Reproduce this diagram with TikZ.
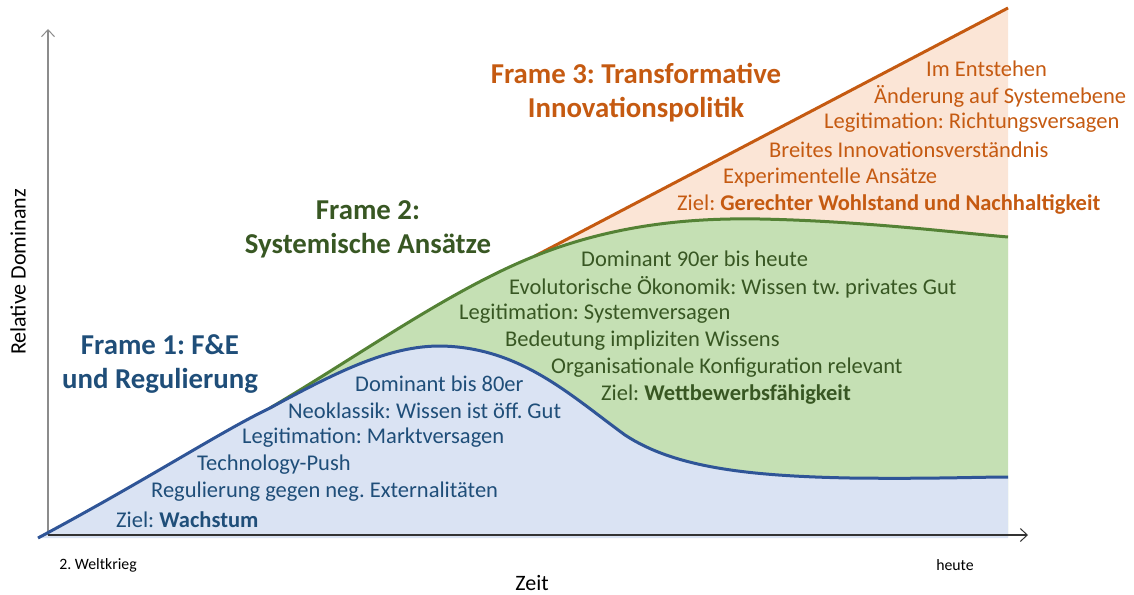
\documentclass[tikz,border=0pt]{standalone}
\usepackage{fontspec}
\setmainfont{Carlito}
\usetikzlibrary{arrows.meta}
\definecolor{bfill}{HTML}{DAE3F3}
\definecolor{gfill}{HTML}{C5E0B4}
\definecolor{ofill}{HTML}{FBE5D6}
\definecolor{bline}{HTML}{2F5597}
\definecolor{gline}{HTML}{548235}
\definecolor{oline}{HTML}{C55A11}
\definecolor{btext}{HTML}{1F4E79}
\definecolor{gtext}{HTML}{385723}
\definecolor{otext}{HTML}{C55A11}
\begin{document}
\frenchspacing
\begin{tikzpicture}[x=1pt,y=-1pt,
  body/.style={anchor=west,inner sep=0pt,font=\fontsize{22.5}{27}\selectfont},
  ftitle/.style={align=center,inner sep=0pt,font=\fontsize{28.8}{34}\selectfont\bfseries},
  small/.style={inner sep=0pt,font=\fontsize{15.8}{18}\selectfont},
  axlabel/.style={inner sep=0pt,font=\fontsize{22}{26}\selectfont},
  curve/.style={line width=3pt},
  axis/.style={line width=1.3pt,-{Straight Barb[length=7pt,width=13pt,line width=1pt]}}]
\useasboundingbox (0,0) rectangle (1134,594);
% fills
\fill[ofill] (535,256) -- (1008,8) -- (1008,300) -- (535,300) -- cycle;
\fill[gfill] (270,408) .. controls (360,355) and (450,290) .. (535,256)
  .. controls (620,222) and (700,218) .. (760,219)
  .. controls (860,221) and (950,232) .. (1008,237) -- (1008,537) -- (270,537) -- cycle;
\fill[bfill] (38,538) .. controls (150,478) and (220,432) .. (270,408)
  .. controls (340,370) and (390,346) .. (440,346)
  .. controls (520,347) and (570,395) .. (625,435)
  .. controls (675,468) and (750,476) .. (850,478)
  .. controls (930,479) and (980,477) .. (1008,477) -- (1008,538) -- cycle;
% axes
\coordinate (o) at (48,535);
\coordinate (ytop) at (48,29);
\coordinate (xend) at (1028,535);
\draw[axis,color=black!45] (o) -- (ytop);
\draw[axis,color=black!80] (o) -- (xend);
% curves
\draw[curve,oline] (535,256) -- (1008,8);
\draw[curve,gline] (270,408) .. controls (360,355) and (450,290) .. (535,256)
  .. controls (620,222) and (700,218) .. (760,219)
  .. controls (860,221) and (950,232) .. (1008,237);
\draw[curve,bline] (38,538) .. controls (150,478) and (220,432) .. (270,408)
  .. controls (340,370) and (390,346) .. (440,346)
  .. controls (520,347) and (570,395) .. (625,435)
  .. controls (675,468) and (750,476) .. (850,478)
  .. controls (930,479) and (980,477) .. (1008,477);
% titles
\node[ftitle,btext] (t1) at (160,364) {Frame 1: F\&E\\und Regulierung};
\node[ftitle,gtext] (t2) at (368,229) {Frame 2:\\Systemische Ansätze};
\node[ftitle,otext] (t3) at (636,93) {Frame 3: Transformative\\Innovationspolitik};
% blue text
\begin{scope}[every node/.style={body,btext}]
\node (b1) at (355,384) {Dominant bis 80er};
\node (b2) at (288,411) {Neoklassik: Wissen ist öff. Gut};
\node (b3) at (242,438) {Legitimation: Marktversagen};
\node (b4) at (197,465) {Technology-Push};
\node (b5) at (151,492) {Regulierung gegen neg. Externalitäten};
\node (b6) at (116,520) {Ziel: \textbf{Wachstum}};
\end{scope}
% green text
\begin{scope}[every node/.style={body,gtext}]
\node (g1) at (581,259) {Dominant 90er bis heute};
\node (g2) at (509,287) {Evolutorische Ökonomik: Wissen tw. privates Gut};
\node (g3) at (459,314) {Legitimation: Systemversagen};
\node (g4) at (505,341) {Bedeutung impliziten Wissens};
\node (g5) at (551,368) {Organisationale Konfiguration relevant};
\node (g6) at (601,395) {Ziel: \textbf{Wettbewerbsfähigkeit}};
\end{scope}
% orange text
\begin{scope}[every node/.style={body,otext}]
\node (o1) at (926,69) {Im Entstehen};
\node (o2) at (874,96) {Änderung auf Systemebene};
\node (o3) at (824,123) {Legitimation: Richtungsversagen};
\node (o4) at (769,150) {Breites Innovationsverständnis};
\node (o5) at (723,177) {Experimentelle Ansätze};
\node (o6) at (677,204) {Ziel: \textbf{Gerechter Wohlstand und Nachhaltigkeit}};
\end{scope}
% axis labels
\node[axlabel,rotate=90] (ylab) at (18,272) {Relative Dominanz};
\node[axlabel] (xlab) at (532,583) {Zeit};
\node[small] (l1) at (98,565) {2. Weltkrieg};
\node[small] (l2) at (955,565) {heute};
\end{tikzpicture}
\end{document}
